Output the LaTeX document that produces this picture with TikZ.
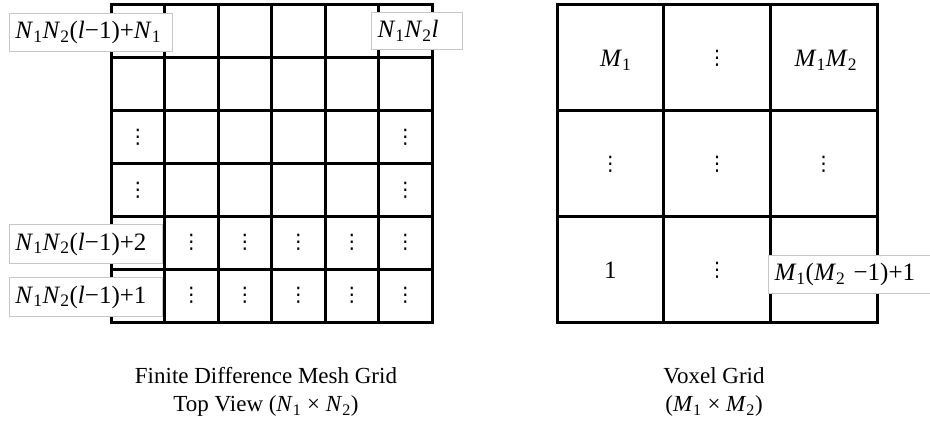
\documentclass[tikz,border=0pt]{standalone}
\usepackage{fontspec}
\setmainfont{Liberation Serif}
\newfontfamily\symf{DejaVu Sans}
\newcommand\sbx[1]{\textsubscript{#1}}
\newcommand\iv[1]{\textit{#1}}
\begin{document}
\begin{tikzpicture}[x=1pt,y=-1pt,
  gridline/.style={line width=3pt, line cap=rect},
  lbl/.style={draw=black!22, fill=white, line width=1pt, anchor=north west, inner xsep=6pt, inner ysep=0pt, align=left, font=\fontsize{25}{30}\selectfont},
  celltxt/.style={font=\fontsize{25}{29}\selectfont},
  vd/.style={font=\symf\fontsize{20}{24}\selectfont},
  captext/.style={align=center, font=\fontsize{23}{28}\selectfont}]
\useasboundingbox (0,0) rectangle (930,430);
\fill[white] (0,0) rectangle (930,430);
% left grid 6x6
\foreach \i in {0,...,6} {
  \draw[gridline] ({111+53.5*\i},5) -- ({111+53.5*\i},323);
  \draw[gridline] (111,{5+53*\i}) -- (432,{5+53*\i});
}
% right grid 3x3
\foreach \i in {0,...,3} {
  \draw[gridline] ({557+106.67*\i},5) -- ({557+106.67*\i},323);
  \draw[gridline] (557,{5+106*\i}) -- (877,{5+106*\i});
}
% dots in left grid
\foreach \r in {2,3} \foreach \c in {0,5}
  \node[vd] (dl-\r-\c) at ({111+53.5*(\c+0.5)},{5+53*(\r+0.5)}) {⋮};
\foreach \r in {4,5} \foreach \c in {1,...,5}
  \node[vd] (dl-\r-\c) at ({111+53.5*(\c+0.5)},{4+53*(\r+0.5)}) {⋮};
% right grid contents
\node[celltxt] (m1) at ({557+106.67*0.55},{5+106*0.52}) {\iv{M}\sbx{1}};
\node[celltxt] (m1m2) at ({557+106.67*2.52},{5+106*0.52}) {\iv{M}\sbx{1}\iv{M}\sbx{2}};
\node[celltxt] (one) at ({557+106.67*0.5},{5+106*2.5}) {1};
\node[vd] (dr-0-1) at ({557+106.67*1.5},{5+106*0.5}) {⋮};
\foreach \c in {0,1,2}
  \node[vd] (dr-1-\c) at ({557+106.67*(\c+0.5)},{5+106*1.5}) {⋮};
\node[vd] (dr-2-1) at ({557+106.67*1.5},{5+106*2.5}) {⋮};
% labels
\node[lbl, text width=151pt, minimum height=38pt] (l1) at (9,13) {\iv{N}\sbx{1}\iv{N}\sbx{2}(\iv{l}−1)+\iv{N}\sbx{1}};
\node[lbl, text width=79pt, minimum height=37pt] (l2) at (371,12) {\iv{N}\sbx{1}\iv{N}\sbx{2}\iv{l}};
\node[lbl, text width=141pt, minimum height=39pt] (l3) at (9,224) {\iv{N}\sbx{1}\iv{N}\sbx{2}(\iv{l}−1)+2};
\node[lbl, text width=141pt, minimum height=39pt] (l4) at (9,277) {\iv{N}\sbx{1}\iv{N}\sbx{2}(\iv{l}−1)+1};
\node[lbl, text width=158pt, minimum height=38pt] (r1) at (768,255) {\iv{M}\sbx{1}(\iv{M}\sbx{2} −1)+1};
% captions
\node[captext] (capL) at (266,392) {Finite Difference Mesh Grid\\Top View (\iv{N}\sbx{1} × \iv{N}\sbx{2})};
\node[captext] (capR) at (714,392) {Voxel Grid\\(\iv{M}\sbx{1} × \iv{M}\sbx{2})};
\end{tikzpicture}
\end{document}
